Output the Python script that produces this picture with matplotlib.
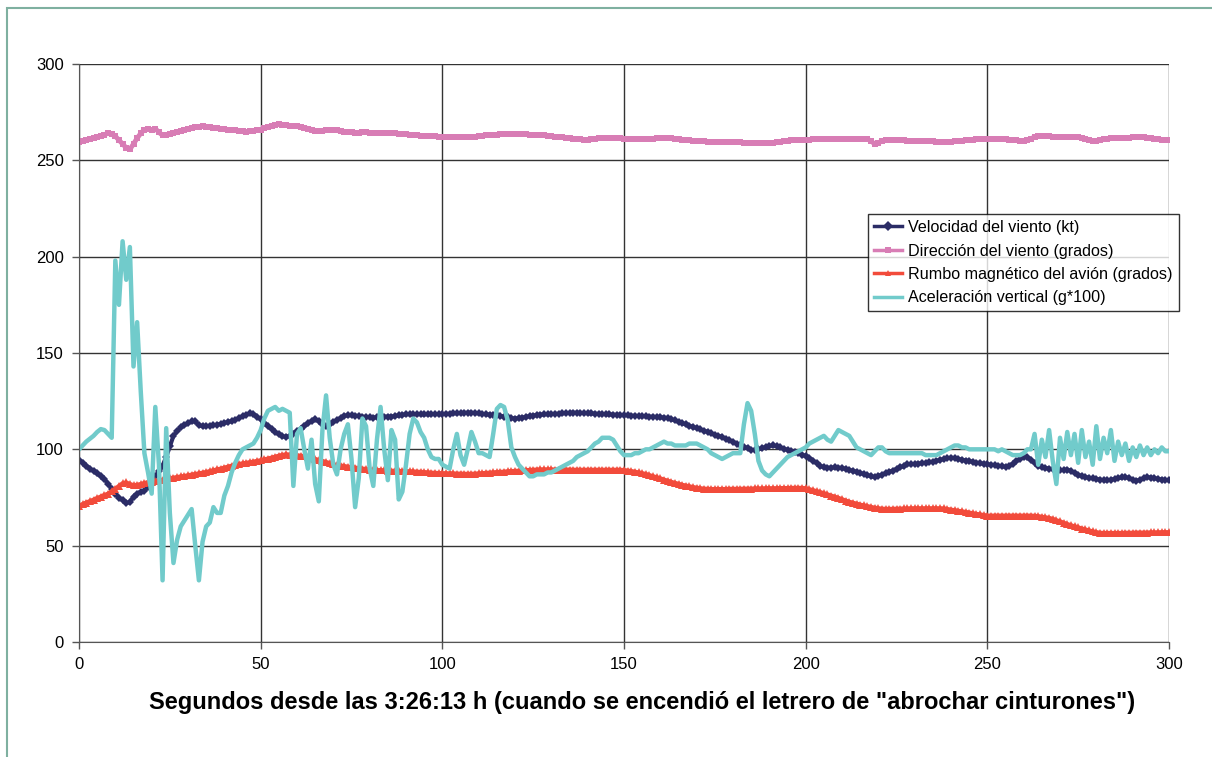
import numpy as np
import matplotlib
matplotlib.use("Agg")
import matplotlib.pyplot as plt
from matplotlib.patches import Rectangle

plt.rcParams["font.family"] = ["Liberation Sans", "DejaVu Sans"]

# segundos desde las 3:26:13 h, un dato por segundo
tiempo = np.arange(0, 301)

velocidad = [
    94.3, 93, 91.5, 90, 88.7, 87.5, 86, 84.7, 82, 79.5, 77, 75, 73.5, 72.3, 72.5, 75.5, 77, 78, 78.6, 80.5,
    83, 86, 88.5, 91.5, 96, 101.5, 107, 109.5, 111.5, 112.5, 113.5, 114.5, 114.5, 112.5, 112, 112, 112.3, 112.5, 112.8, 113.2,
    113.7, 114.2, 114.6, 115.3, 116.2, 117.2, 118, 118.6, 118.3, 117, 115.5, 113.8, 112, 110.5, 109, 107.8, 106.8, 106.4, 107, 108.2,
    109.5, 110.5, 112, 113.5, 114.8, 115.5, 114.5, 113, 112, 113, 114.2, 115.2, 116.3, 117.3, 117.7, 117.6, 117.5, 117.3, 117, 116.8,
    116.6, 116.5, 116.6, 116.8, 117, 117, 117, 117.3, 117.6, 117.9, 118.2, 118.2, 118.1, 118.2, 118.2, 118.1, 118.2, 118.2, 118.3, 118.2,
    118.3, 118.4, 118.5, 118.6, 118.7, 118.8, 118.9, 119, 119, 118.8, 118.6, 118.4, 118.2, 118, 117.8, 117.7, 117.3, 117, 116.6, 116.2,
    116, 116.2, 116.5, 116.8, 117.2, 117.5, 117.8, 118, 118.1, 118.2, 118.3, 118.4, 118.5, 118.6, 118.8, 118.9, 119, 119, 118.9, 118.8,
    118.7, 118.6, 118.5, 118.4, 118.3, 118.2, 118.1, 118, 117.9, 117.8, 117.7, 117.6, 117.5, 117.4, 117.3, 117.2, 117.1, 117, 116.9, 116.8,
    116.6, 116.5, 116.2, 115.6, 115, 114.3, 113.6, 112.9, 112.2, 111.6, 111, 110.3, 109.7, 109, 108.3, 107.6, 107, 106.4, 105.5, 104.7,
    103.9, 103, 102.2, 101.4, 100.6, 99.8, 99.5, 100, 100.6, 101.2, 101.7, 102, 101.6, 101, 100.3, 99.7, 99.2, 98.6, 98, 97.3,
    96.4, 95.5, 94.2, 92.8, 91.5, 90.6, 90.5, 90.5, 90.6, 90.5, 90.3, 89.8, 89.3, 88.8, 88.3, 87.7, 87.2, 86.6, 86, 85.6,
    86.2, 86.9, 87.6, 88.3, 89, 89.8, 90.6, 91.4, 92.2, 92.3, 92.4, 92.6, 92.8, 93, 93.3, 93.6, 94, 94.5, 95, 95.4,
    95.7, 95.4, 95, 94.6, 94.2, 93.9, 93.5, 93.1, 92.8, 92.5, 92.2, 92, 91.8, 91.5, 91.2, 90.9, 91.5, 92.6, 93.8, 95,
    96.2, 96, 94.5, 93, 91.6, 90.6, 90.3, 90, 89.6, 89.2, 89.1, 89.3, 89.5, 88.8, 87.8, 86.8, 86, 85.6, 85.2, 84.9,
    84.6, 84.3, 84, 83.9, 84.2, 84.6, 85, 85.4, 85.6, 85, 84.3, 83.7, 84.2, 85, 85.6, 85.3, 85, 84.6, 84.3, 84.1,
    83.9,
]

direccion = [
    259.6, 260, 260.5, 261, 261.5, 262.2, 262.8, 263.4, 264, 263.5, 262.5, 260.5, 258.5, 256.5, 255.7, 258.5, 261.5, 264, 266, 266.2,
    265.5, 266.5, 264.5, 263, 263.3, 263.8, 264.3, 264.8, 265.3, 265.8, 266.3, 266.8, 267.2, 267.5, 267.6, 267.5, 267.3, 267, 266.7, 266.4,
    266.1, 265.9, 265.7, 265.5, 265.2, 265, 264.8, 265, 265.3, 265.6, 266, 266.7, 267.4, 268, 268.4, 268.6, 268.5, 268.3, 268, 267.8,
    267.6, 267.3, 267, 266.5, 266, 265.4, 265, 265.2, 265.5, 265.7, 265.8, 265.5, 265.2, 264.9, 264.6, 264.5, 264.4, 264.4, 264.5, 264.5,
    264.4, 264.3, 264.3, 264.2, 264.1, 264.1, 264, 264, 263.9, 263.7, 263.5, 263.3, 263.1, 262.9, 262.8, 262.7, 262.6, 262.5, 262.4, 262.3,
    262.2, 262.2, 262.1, 262.1, 262, 262, 262, 262, 262.1, 262.3, 262.5, 262.7, 262.9, 263.1, 263.3, 263.4, 263.5, 263.5, 263.5, 263.5,
    263.5, 263.5, 263.5, 263.5, 263.4, 263.3, 263.2, 263, 262.9, 262.7, 262.5, 262.3, 262.1, 261.9, 261.7, 261.5, 261.3, 261.1, 260.9, 260.8,
    260.8, 261, 261.3, 261.5, 261.7, 261.8, 261.7, 261.6, 261.5, 261.4, 261.3, 261.2, 261.1, 261.1, 261, 261, 261, 261.1, 261.3, 261.5,
    261.7, 261.8, 261.6, 261.4, 261.2, 261, 260.8, 260.6, 260.4, 260.2, 260, 259.9, 259.8, 259.7, 259.6, 259.5, 259.5, 259.4, 259.4, 259.4,
    259.3, 259.3, 259.3, 259.2, 259.2, 259.1, 259, 259, 258.9, 258.8, 258.8, 259, 259.3, 259.6, 259.9, 260.2, 260.5, 260.6, 260.7, 260.7,
    260.8, 260.8, 260.9, 260.9, 261, 261, 261, 261.1, 261.1, 261.1, 261.2, 261.2, 261.2, 261.2, 261.2, 261.1, 261.1, 261, 260, 258.5,
    259.2, 259.9, 260.5, 260.5, 260.4, 260.4, 260.3, 260.3, 260.2, 260.2, 260.1, 260.1, 260, 260, 259.9, 259.8, 259.7, 259.6, 259.5, 259.5,
    259.6, 259.8, 260, 260.2, 260.4, 260.6, 260.8, 261, 261.1, 261.2, 261.3, 261.3, 261.2, 261.1, 261, 260.9, 260.7, 260.5, 260.3, 260.1,
    260, 260.6, 261.3, 262, 262.5, 262.5, 262.4, 262.4, 262.3, 262.3, 262.2, 262.2, 262.1, 262.1, 262, 262, 261.6, 261.1, 260.6, 260.2,
    260, 260.4, 260.9, 261.3, 261.5, 261.6, 261.7, 261.7, 261.8, 261.8, 261.9, 261.9, 262, 262, 261.8, 261.5, 261.2, 260.9, 260.7, 260.6,
    260.5,
]

rumbo = [
    70.8, 71.6, 72.4, 73.1, 73.9, 74.7, 75.5, 76.3, 77, 78.3, 79.6, 81, 82.4, 82.8, 82, 81.4, 81.6, 82, 82.5, 83,
    83.3, 83.6, 84, 84.3, 84.6, 85, 85.3, 85.6, 85.9, 86.2, 86.5, 86.9, 87.2, 87.5, 87.9, 88.2, 88.7, 89.1, 89.6, 90,
    90.5, 91, 91.5, 91.9, 92.4, 92.7, 93, 93.3, 93.6, 94, 94.3, 94.8, 95.2, 95.7, 96.2, 96.7, 97.1, 97.4, 97.3, 97.1,
    96.9, 96.7, 96.5, 96.2, 95.6, 95, 94.5, 94, 93.4, 92.9, 92.3, 91.9, 91.6, 91.3, 91, 90.8, 90.5, 90.3, 90, 89.8,
    89.5, 89.4, 89.3, 89.2, 89.1, 89, 88.9, 88.9, 88.8, 88.7, 88.7, 88.6, 88.5, 88.4, 88.3, 88.2, 88, 87.9, 87.8, 87.7,
    87.6, 87.6, 87.5, 87.5, 87.4, 87.4, 87.3, 87.3, 87.3, 87.4, 87.5, 87.6, 87.8, 87.9, 88, 88.2, 88.3, 88.4, 88.6, 88.7,
    88.8, 88.9, 89.1, 89.2, 89.3, 89.4, 89.5, 89.6, 89.6, 89.6, 89.6, 89.5, 89.5, 89.5, 89.5, 89.5, 89.4, 89.4, 89.4, 89.4,
    89.4, 89.4, 89.4, 89.4, 89.4, 89.4, 89.4, 89.4, 89.4, 89.4, 89.2, 89, 88.7, 88.4, 88, 87.6, 87.2, 86.6, 86, 85.5,
    84.9, 84.3, 83.7, 83.1, 82.6, 82.1, 81.6, 81.2, 80.8, 80.4, 80.1, 79.8, 79.6, 79.5, 79.4, 79.4, 79.4, 79.4, 79.4, 79.5,
    79.5, 79.5, 79.5, 79.6, 79.6, 79.6, 79.7, 79.7, 79.7, 79.8, 79.8, 79.8, 79.8, 79.9, 79.9, 79.9, 80, 80, 80, 80,
    79.8, 79.3, 78.8, 78.3, 77.8, 77.2, 76.6, 76, 75.4, 74.8, 74.1, 73.4, 72.8, 72.3, 71.8, 71.3, 70.9, 70.5, 70.1, 69.7,
    69.4, 69.2, 69.1, 69.1, 69.1, 69.2, 69.2, 69.3, 69.3, 69.4, 69.4, 69.4, 69.4, 69.4, 69.4, 69.4, 69.4, 69.4, 69.3, 69,
    68.7, 68.4, 68.1, 67.8, 67.5, 67.2, 66.8, 66.5, 66.2, 65.9, 65.6, 65.6, 65.6, 65.6, 65.6, 65.6, 65.6, 65.6, 65.6, 65.6,
    65.6, 65.6, 65.6, 65.5, 65.3, 65, 64.7, 64.4, 63.9, 63.2, 62.6, 61.9, 61.2, 60.6, 60, 59.5, 58.9, 58.4, 57.9, 57.4,
    57, 56.7, 56.6, 56.6, 56.6, 56.6, 56.6, 56.6, 56.7, 56.7, 56.7, 56.8, 56.8, 56.8, 56.8, 56.9, 56.9, 56.9, 57, 57,
    57,
]

aceleracion = [
    100, 102, 104, 105.5, 107, 109, 110.5, 110, 108, 106, 198, 175, 208, 188, 205, 143, 166, 130, 98, 88,
    77, 122, 92, 32, 111, 67, 41, 53, 60, 63, 66, 69, 50, 32, 52, 60, 62, 70, 67, 67,
    76, 81, 88, 93, 97, 100, 101, 102, 103, 106, 110, 116, 120, 121, 122, 120, 121, 120, 119, 81,
    108, 111, 100, 90, 105, 82, 73, 110, 128, 106, 92, 87, 100, 108, 113, 95, 70, 85, 116, 112,
    90, 81, 105, 122, 100, 84, 110, 105, 74, 78, 92, 108, 116, 114, 109, 106, 100, 96, 95, 95,
    92, 91, 90, 100, 108, 97, 92, 100, 109, 104, 98, 98, 97, 96, 108, 121, 123, 122, 115, 101,
    96, 92, 90, 88, 86, 86, 87, 87, 87, 88, 88, 89, 90, 91, 92, 93, 94, 96, 97, 98,
    99, 101, 103, 104, 106, 106, 106, 105, 102, 99, 97, 97, 97, 98, 98, 99, 100, 100, 101, 102,
    103, 104, 103, 103, 102, 102, 102, 102, 103, 103, 103, 102, 101, 100, 98, 97, 96, 95, 96, 97,
    98, 98, 98, 113, 124, 120, 108, 94, 89, 87, 86, 88, 90, 92, 94, 96, 97, 98, 99, 100,
    101, 103, 104, 105, 106, 107, 105, 104, 107, 110, 109, 108, 107, 104, 101, 100, 99, 98, 97, 99,
    101, 101, 99, 98, 98, 98, 98, 98, 98, 98, 98, 98, 98, 97, 97, 97, 97, 98, 99, 100,
    101, 102, 102, 101, 101, 100, 100, 100, 100, 100, 100, 100, 100, 99, 100, 99, 98, 97, 97, 97,
    98, 100, 100, 108, 92, 105, 96, 110, 94, 82, 106, 95, 109, 97, 108, 93, 110, 96, 104, 92,
    112, 95, 106, 98, 110, 94, 104, 97, 103, 94, 101, 96, 102, 97, 101, 97, 100, 98, 101, 99,
    99,
]

nombres = [
    "Velocidad del viento (kt)",
    "Dirección del viento (grados)",
    "Rumbo magnético del avión (grados)",
    "Aceleración vertical (g*100)",
]
xlabel = 'Segundos desde las 3:26:13 h (cuando se encendió el letrero de "abrochar cinturones")'

fig = plt.figure(figsize=(12.12, 7.57), dpi=100)
ax = fig.add_axes([79 / 1212, 1 - 642 / 757, 1090 / 1212, 578 / 757])

ax.plot(tiempo, velocidad, color="#2b2c66", lw=3, marker="D", ms=4.5, mew=0, label=nombres[0])
ax.plot(tiempo, direccion, color="#d87db5", lw=3.5, marker="s", ms=4.5, mew=0, label=nombres[1])
ax.plot(tiempo, rumbo, color="#f24b3b", lw=3, marker="^", ms=6, mew=0, label=nombres[2])
ax.plot(tiempo, aceleracion, color="#71cbcb", lw=3.2, label=nombres[3])

ax.set_xlim(0, 300)
ax.set_ylim(0, 300)
ax.set_xticks(range(0, 301, 50))
ax.set_yticks(range(0, 301, 50))
ax.grid(True, color="#333333", lw=1)
ax.set_axisbelow(True)
for s in ["top", "right"]:
    ax.spines[s].set_visible(False)
for s in ["left", "bottom"]:
    ax.spines[s].set_color("#555555")
ax.tick_params(direction="out", length=5, width=1, color="#555555", labelsize=12, pad=6)

# el título del eje va algo a la derecha del centro del área de trazado
fig.text(642 / 1212, 1 - 703 / 757, xlabel, fontsize=17, fontweight="bold",
         ha="center", va="center")

leg = ax.legend(loc="upper left", bbox_to_anchor=(868 / 1212, 1 - 214 / 757),
                bbox_transform=fig.transFigure, fontsize=11.6, frameon=True, fancybox=False,
                handlelength=1.75, borderpad=0.38, labelspacing=0.52, handletextpad=0.35,
                borderaxespad=0)
leg.get_frame().set_edgecolor("black")
leg.get_frame().set_linewidth(1)
for h in leg.get_lines():
    h.set_markersize(5)
    h.set_linewidth(2.5)

fig.add_artist(Rectangle((7 / 1212, -0.5), 2, 0.5 + 1 - 8 / 757, transform=fig.transFigure,
                         fill=False, ec="#7fb0a0", lw=1.5))

fig.savefig("out.png", dpi=100)
